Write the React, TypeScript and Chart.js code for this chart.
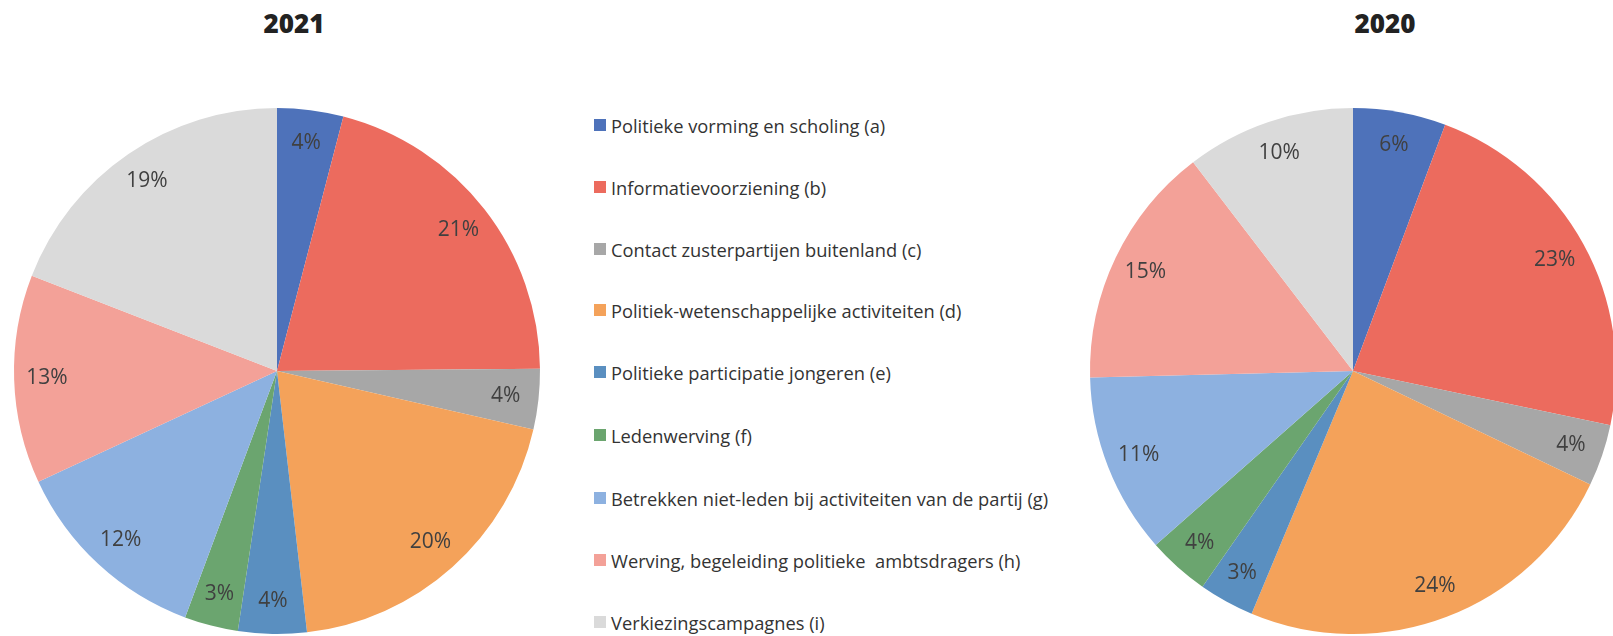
import React, { useEffect, useRef } from "react";
import { Chart, registerables } from "chart.js";

Chart.register(...registerables);

const categories = [
  "Politieke vorming en scholing (a)",
  "Informatievoorziening (b)",
  "Contact zusterpartijen buitenland (c)",
  "Politiek-wetenschappelijke activiteiten (d)",
  "Politieke participatie jongeren (e)",
  "Ledenwerving (f)",
  "Betrekken niet-leden bij activiteiten van de partij (g)",
  "Werving, begeleiding politieke  ambtsdragers (h)",
  "Verkiezingscampagnes (i)",
];

const values2021 = [4.06, 20.8, 3.7, 19.6, 4.2, 3.3, 12.4, 12.8, 19.1];
const values2020 = [5.7, 22.6, 3.8, 24.2, 3.4, 3.8, 11.1, 15.0, 10.4];

const colors = [
  "#4E72BA",
  "#EC6B5E",
  "#A7A7A7",
  "#F4A25A",
  "#5A8FC0",
  "#6BA56F",
  "#8DB1E0",
  "#F3A198",
  "#DADADA",
];

const titles = ["2021", "2020"];

const FONT = "'Open Sans', sans-serif";

const pctLabelPlugin = {
  id: "pctLabels",
  afterDatasetsDraw(chart: any) {
    const ctx = chart.ctx;
    const meta = chart.getDatasetMeta(0);
    const data = chart.data.datasets[0].data as number[];
    ctx.save();
    ctx.font = `21px ${FONT}`;
    ctx.fillStyle = "#404040";
    ctx.textAlign = "center";
    ctx.textBaseline = "middle";
    meta.data.forEach((arc: any, i: number) => {
      const p = arc.getProps(["x", "y", "startAngle", "endAngle", "outerRadius"], true);
      const mid = (p.startAngle + p.endAngle) / 2;
      const r = p.outerRadius * 0.875;
      const x = p.x + Math.cos(mid) * r;
      const y = p.y + Math.sin(mid) * r;
      ctx.fillText(`${Math.round(data[i])}%`, x, y);
    });
    ctx.restore();
  },
};

function PieCanvas(props: { values: number[]; left: number; top: number; size: number }) {
  const ref = useRef<HTMLCanvasElement | null>(null);
  useEffect(() => {
    if (!ref.current) return;
    const chart = new Chart(ref.current, {
      type: "pie",
      data: {
        labels: categories,
        datasets: [
          {
            data: props.values,
            backgroundColor: colors,
            borderWidth: 0,
          },
        ],
      },
      options: {
        responsive: false,
        animation: false,
        layout: { padding: 2 },
        plugins: {
          legend: { display: false },
          tooltip: { enabled: false },
          title: { display: false },
        },
      },
      plugins: [pctLabelPlugin],
    });
    return () => chart.destroy();
  }, []);
  return (
    <canvas
      ref={ref}
      width={props.size}
      height={props.size}
      style={{
        position: "absolute",
        left: props.left,
        top: props.top,
        width: props.size,
        height: props.size,
        display: "block",
      }}
    />
  );
}

export default function App() {
  const legendTops = [125, 187, 249, 310, 372, 435, 498, 560, 622];
  return (
    <div
      style={{
        position: "fixed",
        left: 0,
        top: 0,
        width: 1613,
        height: 636,
        overflow: "hidden",
        background: "#ffffff",
        fontFamily: FONT,
      }}
    >
      <div
        style={{
          position: "absolute",
          left: 194,
          top: 6,
          width: 200,
          textAlign: "center",
          fontSize: 26,
          lineHeight: "34px",
          fontWeight: 800,
          color: "#222",
        }}
      >
        {titles[0]}
      </div>
      <div
        style={{
          position: "absolute",
          left: 1285,
          top: 6,
          width: 200,
          textAlign: "center",
          fontSize: 26,
          lineHeight: "34px",
          fontWeight: 800,
          color: "#222",
        }}
      >
        {titles[1]}
      </div>
      <PieCanvas values={values2021} left={12} top={106} size={530} />
      <PieCanvas values={values2020} left={1088} top={106} size={530} />
      {categories.map((c, i) => (
        <div
          key={c}
          style={{
            position: "absolute",
            left: 594,
            top: legendTops[i] - 14,
            height: 28,
            display: "flex",
            alignItems: "center",
            whiteSpace: "pre",
            fontSize: 18.3,
            color: "#333",
          }}
        >
          <span
            style={{
              display: "inline-block",
              width: 12,
              height: 12,
              background: colors[i],
              marginRight: 5,
            }}
          />
          <span>{c}</span>
        </div>
      ))}
    </div>
  );
}
